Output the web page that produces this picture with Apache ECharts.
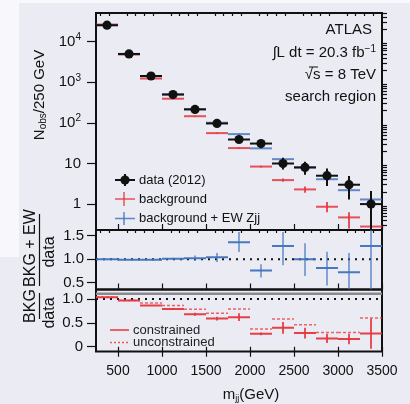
<!DOCTYPE html>
<html><head><meta charset="utf-8">
<script src="https://cdn.jsdelivr.net/npm/echarts@6/dist/echarts.min.js"></script>
<style>html,body{margin:0;padding:0;background:#f8f8fc}#c{width:410px;height:404px}</style>
</head><body><div id="c"></div>
<script>
// ---- data ----
const binEdges = [250,500,750,1000,1250,1500,1750,2000,2250,2500,2750,3000,3250,3500];
const xMajorTicks = [500,1000,1500,2000,2500,3000,3500];
const yLogTicks = [1,10,100,1000,10000];
// data (2012)
const nData     = [25500, 5000, 1430, 500, 215, 97, 39, 31, 10, 8, 5, 3, 1];
const nDataLow  = [25340, 4930, 1392, 478, 200, 87, 33, 25.5, 7.1, 5.3, 2.8, 1.3, 0.05];
const nDataHigh = [25660, 5070, 1468, 522, 230, 107, 45.5, 37, 13.8, 11, 7.5, 4.9, 2.1];
// background
const nBkg      = [26500, 4850, 1240, 395, 146, 56, 24, 8.4, 3.9, 2.3, 0.86, 0.47, 0.28];
const nBkgLow   = [26300, 4800, 1225, 388, 142, 54, 23, 8.0, 3.55, 1.9, 0.63, 0.25, 0.12];
const nBkgHigh  = [26700, 4900, 1255, 402, 150, 58, 25, 8.8, 4.3, 2.7, 1.12, 0.63, 0.44];
// background + EW Zjj
const nBkgEW     = [25500, 4950, 1415, 505, 219, 101, 53, 23.6, 12.8, 8, 4.1, 2.2, 1.3];
const nBkgEWLow  = [25300, 4900, 1400, 498, 214, 98, 51, 22.8, 12.2, 7.6, 3.9, 2.1, 1.2];
const nBkgEWHigh = [25700, 5000, 1430, 512, 224, 104, 55, 24.4, 13.4, 8.4, 4.3, 2.3, 1.4];
// (BKG + EW)/data
const rEW     = [1.0, 0.99, 0.99, 1.01, 1.02, 1.04, 1.36, 0.76, 1.28, 1.0, 0.81, 0.72, 1.28];
const rEWLow  = [0.995, 0.985, 0.975, 0.99, 0.96, 0.94, 1.15, 0.61, 0.87, 0.64, 0.44, 0.30, 0.0];
const rEWHigh = [1.005, 0.995, 1.005, 1.03, 1.08, 1.13, 1.58, 0.89, 1.58, 1.34, 1.16, 1.13, 2.6];
// BKG/data constrained / unconstrained
const rBkg     = [1.04, 0.97, 0.865, 0.79, 0.68, 0.59, 0.62, 0.27, 0.40, 0.29, 0.17, 0.16, 0.28];
const rBkgLow  = [1.03, 0.96, 0.855, 0.77, 0.65, 0.55, 0.54, 0.24, 0.27, 0.17, 0.08, 0.05, -0.04];
const rBkgHigh = [1.05, 0.98, 0.875, 0.81, 0.71, 0.63, 0.70, 0.30, 0.52, 0.40, 0.27, 0.27, 0.59];
const rUncon   = [1.04, 0.97, 0.915, 0.865, 0.785, 0.70, 0.79, 0.37, 0.58, 0.46, 0.30, 0.30, 0.60];

// ---- helpers ----
const RED = '#e8353b', BLUE = '#3f72bd', BLACK = '#111';
const FONT = '"Liberation Sans", Arial, sans-serif';
const NARROW = '"Liberation Sans Narrow", "Arial Narrow", "Liberation Sans", sans-serif';
function binRows(v, lo, hi) {
  return v.map((y, i) => [binEdges[i], binEdges[i + 1], y, lo ? lo[i] : y, hi ? hi[i] : y]);
}
const xMinor = [];
for (let v = 300; v < 3500; v += 100) if (v % 500 !== 0) xMinor.push(v);
const yLogMinor = [];
[0.1, 1, 10, 100, 1000, 10000].forEach(d => { for (let k = 2; k <= 9; k++) yLogMinor.push(d * k); });

function errItem(opt) {
  return function (params, api) {
    const xl = api.value(0), xh = api.value(1), y = api.value(2), lo = api.value(3), hi = api.value(4);
    const xc = (xl + xh) / 2;
    const a = api.coord([xl, y]), b = api.coord([xh, y]);
    const c = api.coord([xc, y]);
    const pl = api.coord([xc, lo]), ph = api.coord([xc, hi]);
    const ch = [];
    if (!opt.dash) {
      ch.push({ type: 'line', shape: { x1: pl[0], y1: pl[1], x2: ph[0], y2: ph[1] },
        style: { stroke: opt.color, lineWidth: opt.vw || 2, opacity: opt.vop || opt.op || 1 } });
    }
    ch.push({ type: 'line', shape: { x1: a[0], y1: a[1], x2: b[0], y2: b[1] },
      style: { stroke: opt.color, lineWidth: opt.lw || 2, opacity: opt.op || 1, lineDash: opt.dash || null } });
    if (opt.dot) ch.push({ type: 'circle', shape: { cx: c[0], cy: c[1], r: 4.6 }, style: { fill: opt.color } });
    return { type: 'group', children: ch };
  };
}
function custom(xi, yi, data, opt, z) {
  return { type: 'custom', xAxisIndex: xi, yAxisIndex: yi, clip: true, z: z || 2,
    renderItem: errItem(opt), data: data, silent: true,
    encode: { x: [0, 1], y: [2, 3, 4] } };
}
const tickStyle = { color: BLACK, width: 1.2 };
function xAxes(g, labels, inside) {
  return [
    { gridIndex: g, type: 'value', min: 250, max: 3500, axisLine: { show: false }, splitLine: { show: false },
      axisTick: { show: true, inside: inside, length: inside ? 6 : 10, customValues: xMajorTicks, lineStyle: tickStyle },
      axisLabel: labels ? { show: true, customValues: xMajorTicks, margin: 13, color: BLACK, fontSize: 14, fontFamily: FONT, formatter: v => String(v) } : { show: false } },
    { gridIndex: g, type: 'value', min: 250, max: 3500, axisLine: { show: false }, splitLine: { show: false },
      axisTick: { show: inside, inside: true, length: 3, customValues: xMinor, lineStyle: tickStyle },
      axisLabel: { show: false } }
  ];
}

const chart = echarts.init(document.getElementById('c'), null, { renderer: 'canvas' });
const option = {
  backgroundColor: '#ebebf4',
  animation: false,
  grid: [
    { left: 96, top: 13, width: 286, height: 217, show: true, borderColor: BLACK, borderWidth: 2, backgroundColor: 'transparent' },
    { left: 96, top: 230, width: 286, height: 59.5, show: true, borderColor: BLACK, borderWidth: 2, backgroundColor: 'transparent' },
    { left: 96, top: 289.5, width: 286, height: 62, show: true, borderColor: BLACK, borderWidth: 2, backgroundColor: 'transparent' }
  ],
  xAxis: [].concat(xAxes(0, false, true), xAxes(1, false, true), xAxes(2, true, false)),
  yAxis: [
    { gridIndex: 0, type: 'log', logBase: 10, min: 0.23, max: 51000, axisLine: { show: false }, splitLine: { show: false },
      axisTick: { show: true, length: 9, customValues: yLogTicks, lineStyle: tickStyle },
      axisLabel: { show: true, customValues: yLogTicks, margin: 15, color: BLACK, fontSize: 15, fontFamily: FONT,
        formatter: v => { const e = Math.round(Math.log10(v)); return e === 0 ? '1' : e === 1 ? '10' : '10{sup|' + e + '}'; },
        rich: { sup: { fontSize: 10, fontFamily: FONT, color: BLACK, padding: [0, 0, 9, 0] } } } },
    { gridIndex: 0, type: 'log', logBase: 10, min: 0.23, max: 51000, axisLine: { show: false }, splitLine: { show: false },
      axisTick: { show: true, length: 5, customValues: yLogMinor, lineStyle: tickStyle }, axisLabel: { show: false } },
    { gridIndex: 1, type: 'value', min: 0.355, max: 1.62, axisLine: { show: false }, splitLine: { show: false },
      axisTick: { show: true, length: 9, customValues: [0.5, 1, 1.5], lineStyle: tickStyle },
      axisLabel: { show: true, customValues: [0.5, 1, 1.5], margin: 12, color: BLACK, fontSize: 15, fontFamily: FONT, formatter: v => v.toFixed(1) } },
    { gridIndex: 2, type: 'value', min: -0.1, max: 1.2, axisLine: { show: false }, splitLine: { show: false },
      axisTick: { show: true, length: 9, customValues: [0, 0.5, 1], lineStyle: tickStyle },
      axisLabel: { show: true, customValues: [0, 0.5, 1], margin: 13, color: BLACK, fontSize: 15, fontFamily: FONT, formatter: v => v === 0 ? '0' : v.toFixed(1) } }
  ],
  series: [
    custom(0, 0, binRows(nBkg, nBkgLow, nBkgHigh), { color: RED, op: 0.85 }, 2),
    custom(0, 0, binRows(nBkgEW, nBkgEWLow, nBkgEWHigh), { color: BLUE, op: 0.8 }, 3),
    custom(0, 0, binRows(nData, nDataLow, nDataHigh), { color: BLACK, dot: true }, 5),
    { type: 'line', xAxisIndex: 2, yAxisIndex: 2, data: [[250, 1], [3500, 1]], symbol: 'none', silent: true, z: 1,
      lineStyle: { color: BLACK, width: 2, type: [2, 5] } },
    custom(2, 2, binRows(rEW, rEWLow, rEWHigh), { color: BLUE, op: 0.95, vop: 0.6 }, 3),
    { type: 'line', xAxisIndex: 4, yAxisIndex: 3, data: [[250, 1], [3500, 1]], symbol: 'none', silent: true, z: 1,
      lineStyle: { color: BLACK, width: 2, type: [2, 5] } },
    { type: 'line', xAxisIndex: 4, yAxisIndex: 3, data: [[250, 1.11], [3500, 1.11]], symbol: 'none', silent: true, z: 1,
      lineStyle: { color: '#8a8a8e', width: 2.5 } },
    custom(4, 3, binRows(rUncon), { color: RED, dash: [3, 2], lw: 1.5, op: 0.75 }, 2),
    custom(4, 3, binRows(rBkg, rBkgLow, rBkgHigh), { color: RED, op: 0.95, vop: 0.85 }, 3)
  ],
  graphic: [
    // page-edge strip
    { type: 'rect', z: -10, shape: { x: 0, y: 0, width: 19, height: 257 }, style: { fill: '#f8f8fc' } },
    { type: 'rect', z: -10, shape: { x: 0, y: 0, width: 410, height: 3 }, style: { fill: '#f8f8fc' } },
    // annotations
    { type: 'text', x: 372, y: 30, style: { text: 'ATLAS', fontSize: 15, fontFamily: FONT, fill: BLACK, align: 'right', verticalAlign: 'middle' } },
    { type: 'text', x: 376, y: 53, style: { text: '∫L dt = 20.3 fb{sup|−1}', fontSize: 15, fontFamily: FONT, fill: BLACK, align: 'right', verticalAlign: 'middle',
      rich: { sup: { fontSize: 10, fontFamily: FONT, fill: BLACK, padding: [0, 0, 8, 0] } } } },
    { type: 'text', x: 376, y: 75, style: { text: '√s = 8 TeV', fontSize: 15, fontFamily: FONT, fill: BLACK, align: 'right', verticalAlign: 'middle' } },
    { type: 'line', shape: { x1: 309, y1: 67, x2: 318, y2: 67 }, style: { stroke: BLACK, lineWidth: 1 } },
    { type: 'text', x: 376, y: 97, style: { text: 'search region', fontSize: 15, fontFamily: FONT, fill: BLACK, align: 'right', verticalAlign: 'middle' } },
    // legend top
    { type: 'line', shape: { x1: 115, y1: 180, x2: 135, y2: 180 }, style: { stroke: BLACK, lineWidth: 2 } },
    { type: 'line', shape: { x1: 125, y1: 174, x2: 125, y2: 186 }, style: { stroke: BLACK, lineWidth: 2 } },
    { type: 'circle', shape: { cx: 125, cy: 180, r: 4.6 }, style: { fill: BLACK } },
    { type: 'text', x: 139, y: 180, style: { text: 'data (2012)', fontSize: 13, fontFamily: FONT, fill: BLACK, verticalAlign: 'middle' } },
    { type: 'line', shape: { x1: 115, y1: 199, x2: 135, y2: 199 }, style: { stroke: RED, lineWidth: 1.5, opacity: 0.85 } },
    { type: 'line', shape: { x1: 124, y1: 192, x2: 124, y2: 206 }, style: { stroke: RED, lineWidth: 1.5, opacity: 0.85 } },
    { type: 'text', x: 139, y: 199, style: { text: 'background', fontSize: 13, fontFamily: FONT, fill: BLACK, verticalAlign: 'middle' } },
    { type: 'line', shape: { x1: 115, y1: 218.5, x2: 135, y2: 218.5 }, style: { stroke: BLUE, lineWidth: 1.5, opacity: 0.85 } },
    { type: 'line', shape: { x1: 124, y1: 212, x2: 124, y2: 225 }, style: { stroke: BLUE, lineWidth: 1.5, opacity: 0.85 } },
    { type: 'text', x: 139, y: 218.5, style: { text: 'background + EW Zjj', fontSize: 13, fontFamily: FONT, fill: BLACK, verticalAlign: 'middle' } },
    // legend bottom
    { type: 'line', shape: { x1: 110, y1: 330, x2: 129, y2: 330 }, style: { stroke: RED, lineWidth: 1.5 } },
    { type: 'text', x: 133, y: 330, style: { text: 'constrained', fontSize: 13, fontFamily: FONT, fill: '#222', verticalAlign: 'middle' } },
    { type: 'line', shape: { x1: 110, y1: 342.5, x2: 129, y2: 342.5 }, style: { stroke: RED, lineWidth: 1.5, lineDash: [2, 2], opacity: 0.8 } },
    { type: 'text', x: 133, y: 342.5, style: { text: 'unconstrained', fontSize: 13, fontFamily: FONT, fill: '#222', verticalAlign: 'middle' } },
    // axis titles
    { type: 'text', x: 40, y: 95, rotation: Math.PI / 2, style: { text: 'N{sub|obs}/250 GeV', fontSize: 15, fontFamily: FONT, fill: BLACK, align: 'center', verticalAlign: 'middle',
      rich: { sub: { fontSize: 10, fontFamily: FONT, fill: BLACK, padding: [6, 0, 0, 0] } } } },
    { type: 'group', x: 39.5, y: 250, rotation: Math.PI / 2, children: [
      { type: 'text', x: 2, y: -9, style: { text: 'BKG + EW', fontSize: 16, fontFamily: NARROW, fill: BLACK, align: 'center', verticalAlign: 'middle' } },
      { type: 'line', shape: { x1: -36, y1: 0, x2: 36, y2: 0 }, style: { stroke: BLACK, lineWidth: 1.2 } },
      { type: 'text', x: -2, y: 10, style: { text: 'data', fontSize: 16, fontFamily: NARROW, fill: BLACK, align: 'center', verticalAlign: 'middle' } }
    ] },
    { type: 'group', x: 39.5, y: 309, rotation: Math.PI / 2, children: [
      { type: 'text', x: 3, y: -9, style: { text: 'BKG', fontSize: 16, fontFamily: NARROW, fill: BLACK, align: 'center', verticalAlign: 'middle' } },
      { type: 'line', shape: { x1: -10, y1: 0, x2: 16, y2: 0 }, style: { stroke: BLACK, lineWidth: 1.2 } },
      { type: 'text', x: -4, y: 10, style: { text: 'data', fontSize: 16, fontFamily: NARROW, fill: BLACK, align: 'center', verticalAlign: 'middle' } }
    ] },
    { type: 'text', x: 251, y: 395, style: { text: 'm{sub|jj}(GeV)', fontSize: 15, fontFamily: FONT, fill: BLACK, align: 'center', verticalAlign: 'middle',
      rich: { sub: { fontSize: 9, fontFamily: FONT, fill: BLACK, padding: [7, 0, 0, 0] } } } }
  ]
};
chart.setOption(option);
</script>
</body></html>
